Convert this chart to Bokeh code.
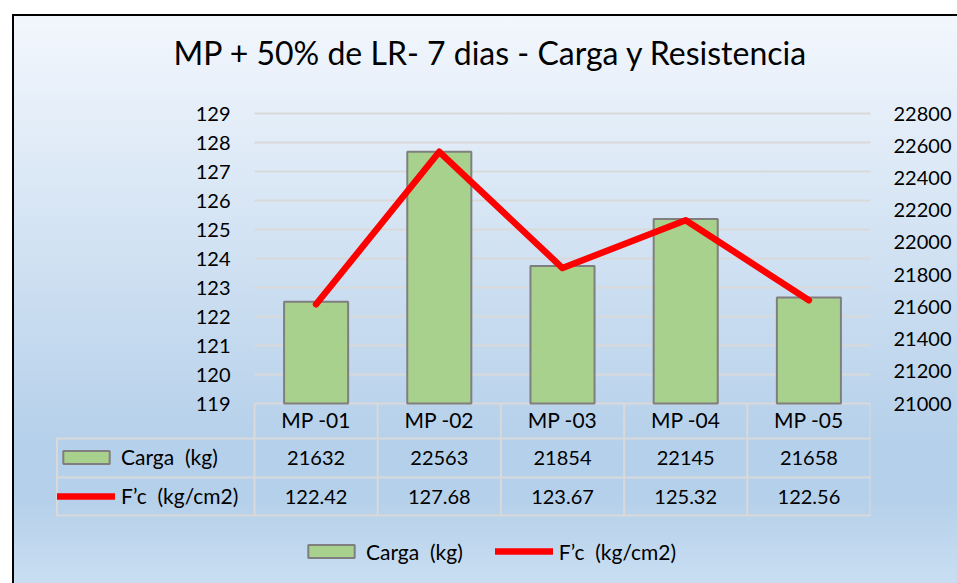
from bokeh.plotting import figure
from bokeh.models import Range1d, LinearAxis, FixedTicker, Legend, LegendItem
from bokeh.core.properties import value
from bokeh.embed import file_html
from bokeh.resources import INLINE

# ---------------- data ----------------
categories = ["MP -01", "MP -02", "MP -03", "MP -04", "MP -05"]
carga_kg = [21632, 22563, 21854, 22145, 21658]
fc_kgcm2 = [122.42, 127.68, 123.67, 125.32, 122.56]
fc_ticks = [119, 120, 121, 122, 123, 124, 125, 126, 127, 128, 129]
carga_ticks = [21000, 21200, 21400, 21600, 21800, 22000, 22200, 22400, 22600, 22800]
title_text = "MP + 50% de LR- 7 dias - Carga y Resistencia"
carga_label = "Carga  (kg)"
fc_label = "F\u2019c  (kg/cm2)"

# ---------------- layout constants ----------------
W, H = 957, 583
TOP_PAD = 15                            # room above the 129 line for its label
B_LEFT, B_RIGHT, B_TOP = 55, 87, 113 - TOP_PAD
CAT_LEFT_PX = 254                       # left edge of category area (page px)
FRAME_H = H - B_TOP
AXIS_PX = 290                           # pixels between 119 and 129
BELOW_PX = FRAME_H - TOP_PAD - AXIS_PX  # pixels under the 119 baseline
n = len(categories)
px_per_cat = (W - B_RIGHT - CAT_LEFT_PX) / n
x_start = -(CAT_LEFT_PX - B_LEFT) / px_per_cat
fc_lo, fc_hi = fc_ticks[0], fc_ticks[-1]
px_per_fc = AXIS_PX / (fc_hi - fc_lo)
fc_start = fc_lo - BELOW_PX / px_per_fc
fc_end = fc_hi + TOP_PAD / px_per_fc
carga_lo, carga_hi = carga_ticks[0], carga_ticks[-1]
carga_per_px = (carga_hi - carga_lo) / AXIS_PX
carga_start = carga_lo - BELOW_PX * carga_per_px
carga_end = carga_hi + TOP_PAD * carga_per_px

FONT = "Lato"
GRID = "#d9d9d9"
BAR_FILL = "#a9d18e"
BAR_LINE = "#7f7f7f"
RED = "#ff0000"

xs = [i + 0.5 for i in range(n)]        # category centres


def below(px):
    """data y for a point px pixels below the 119 baseline"""
    return fc_lo - px / px_per_fc


p = figure(width=W, height=H,
           x_range=Range1d(x_start, n), y_range=Range1d(fc_start, fc_end),
           x_axis_location=None,
           output_backend="svg", toolbar_location=None,
           min_border_left=B_LEFT, min_border_right=B_RIGHT,
           min_border_top=B_TOP, min_border_bottom=0)

p.background_fill_alpha = 0
p.border_fill_alpha = 0
p.outline_line_color = None
p.styles = {
    "background": (
        "linear-gradient(#000,#000) 12px 14px / 2px 100% no-repeat,"
        "linear-gradient(#000,#000) 12px 14px / 100% 2px no-repeat,"
        "linear-gradient(to bottom, #f3f7fd 0%, #b5d0ea 74%, #b5d0ea 83%, #cce0f3 100%) 12px 14px / 100% 100% no-repeat,"
        "#ffffff"
    )
}

# title
p.title.text = title_text
p.title.text_font = FONT
p.title.text_font_size = "32px"
p.title.text_font_style = "normal"
p.title.text_color = "#000000"
p.title.align = "left"
p.title.offset = 118
p.title.standoff = 53

# grid (only over the category area)
p.xgrid.grid_line_color = None
grid = p.ygrid[0]
if "cross_bounds" in grid.properties():
    grid.ticker = FixedTicker(ticks=fc_ticks[1:])
    grid.cross_bounds = (0, n)
    grid.grid_line_color = GRID
    grid.grid_line_width = 2
else:
    grid.grid_line_color = None
    gt = fc_ticks[1:]
    p.segment(x0=[0] * len(gt), x1=[n] * len(gt), y0=gt, y1=gt,
              line_color=GRID, line_width=2)

# left axis (F'c) drawn at the left edge of the category area
ya = p.yaxis[0]
ya.fixed_location = 0
ya.ticker = FixedTicker(ticks=fc_ticks)
ya.axis_line_color = None
ya.major_tick_line_color = None
ya.minor_tick_line_color = None
ya.major_tick_out = 0
ya.major_tick_in = 0
ya.major_label_standoff = 24
ya.major_label_text_font = FONT
ya.major_label_text_font_size = "20px"
ya.major_label_text_color = "#000000"

# right axis (Carga)
p.extra_y_ranges = {"carga": Range1d(carga_start, carga_end)}
ra = LinearAxis(y_range_name="carga", ticker=FixedTicker(ticks=carga_ticks),
                axis_line_color=None, major_tick_line_color=None, minor_tick_line_color=None,
                major_tick_out=0, major_tick_in=0, major_label_standoff=23,
                major_label_text_font=FONT, major_label_text_font_size="20px",
                major_label_text_color="#000000")
p.add_layout(ra, "right")

# data table grid lines
p.segment(x0=[0], x1=[n], y0=[below(0)], y1=[below(0)], line_color=GRID, line_width=2)
row_lines = [35, 74, 112]
p.segment(x0=[x_start] * 3, x1=[n] * 3, y0=[below(r) for r in row_lines],
          y1=[below(r) for r in row_lines], line_color=GRID, line_width=2)
p.segment(x0=list(range(n + 1)), x1=list(range(n + 1)),
          y0=[below(0)] * (n + 1), y1=[below(112)] * (n + 1),
          line_color=GRID, line_width=2)
left_x = x_start + 1.5 / px_per_cat
p.segment(x0=[left_x], x1=[left_x], y0=[below(35)], y1=[below(112)],
          line_color=GRID, line_width=2)

# bars and line
bars = p.vbar(x=xs, top=carga_kg, bottom=carga_lo, width=0.52, y_range_name="carga",
              fill_color=BAR_FILL, line_color=BAR_LINE, line_width=2)
line = p.line(x=xs, y=fc_kgcm2, line_color=RED, line_width=6.5,
              line_cap="round", line_join="round")

# table text
txt = dict(text_font=value(FONT), text_align="center",
           text_baseline="middle", text_color="#000000")
p.text(x=xs, y=[below(16)] * n, text=categories, text_font_size="21px", **txt)
p.text(x=xs, y=[below(54)] * n, text=[str(v) for v in carga_kg], text_font_size="20px", **txt)
p.text(x=xs, y=[below(93)] * n, text=[f"{v:.2f}" for v in fc_kgcm2], text_font_size="20px", **txt)

leg_common = dict(glyph_width=58, glyph_height=16, label_standoff=6, padding=0, margin=0,
                  border_line_color=None, background_fill_alpha=0,
                  label_text_font=FONT, label_text_font_size="21px", label_text_color="#000000")

legend_table = Legend(items=[LegendItem(label=carga_label, renderers=[bars]),
                             LegendItem(label=fc_label, renderers=[line])],
                      orientation="vertical", location=(2, 75), spacing=14, **leg_common)
p.add_layout(legend_table)

legend_bottom = Legend(items=[LegendItem(label=carga_label, renderers=[bars]),
                              LegendItem(label=fc_label, renderers=[line])],
                       orientation="horizontal", location=(247, 19.5), spacing=32, **leg_common)
p.add_layout(legend_bottom)

open("out.html", "w").write(file_html(p, INLINE))
